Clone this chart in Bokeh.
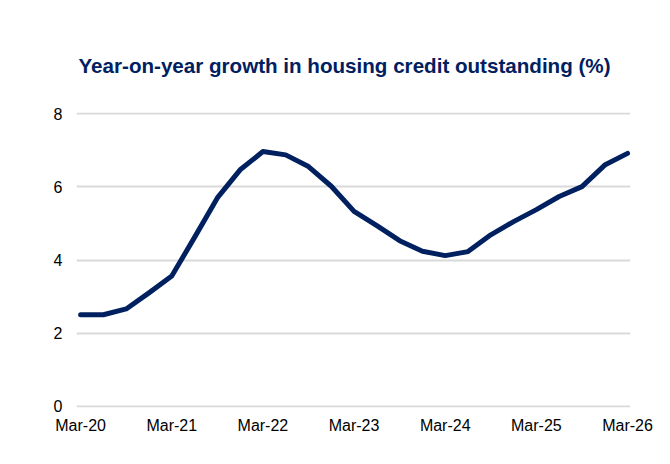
from bokeh.plotting import figure
from bokeh.models import FixedTicker, Range1d, ColumnDataSource
from bokeh.embed import file_html
from bokeh.resources import INLINE

quarters = ["Mar-20", "Jun-20", "Sep-20", "Dec-20", "Mar-21", "Jun-21", "Sep-21", "Dec-21",
            "Mar-22", "Jun-22", "Sep-22", "Dec-22", "Mar-23", "Jun-23", "Sep-23", "Dec-23",
            "Mar-24", "Jun-24", "Sep-24", "Dec-24", "Mar-25", "Jun-25", "Sep-25", "Dec-25",
            "Mar-26"]
growth = [2.50, 2.50, 2.66, 3.10, 3.56, 4.62, 5.70, 6.47,
          6.97, 6.88, 6.56, 6.02, 5.33, 4.94, 4.53, 4.24,
          4.12, 4.23, 4.69, 5.05, 5.38, 5.74, 6.01, 6.60,
          6.92]
y_ticks = [0, 2, 4, 6, 8]
x_tick_labels = ["Mar-20", "Mar-21", "Mar-22", "Mar-23", "Mar-24", "Mar-25", "Mar-26"]

idx = list(range(len(quarters)))
src = ColumnDataSource(dict(x=idx, y=growth, q=quarters))

NAVY = "#002060"
FONT = "Liberation Sans"

p = figure(width=670, height=464, output_backend="svg", toolbar_location=None,
           x_range=Range1d(-0.18, 24.13), y_range=Range1d(-0.04, 8.04),
           min_border_left=76, min_border_right=40, min_border_bottom=57,
           min_border_top=112)
p.outline_line_color = None
p.background_fill_color = "white"
p.border_fill_color = "white"

p.title.text = "Year-on-year growth in housing credit outstanding (%)"
p.title.align = "left"
p.title.offset = 2
p.title.text_font = FONT
p.title.text_font_size = "20.6px"
p.title.text_font_style = "bold"
p.title.text_color = NAVY
p.title.standoff = 72

p.line("x", "y", source=src, line_color=NAVY, line_width=5, line_join="round", line_cap="round")

# x axis
xt = [quarters.index(l) for l in x_tick_labels]
p.xaxis.ticker = FixedTicker(ticks=xt)
p.xaxis.major_label_overrides = {i: quarters[i] for i in xt}
p.xaxis.axis_line_color = None
p.xaxis.major_tick_line_color = None
p.xaxis.minor_tick_line_color = None
p.xaxis.major_tick_out = 0
p.xaxis.major_label_standoff = 9
p.xaxis.major_label_text_font = FONT
p.xaxis.major_label_text_font_size = "16px"
p.xaxis.major_label_text_color = "black"
p.xgrid.grid_line_color = None

# y axis
p.yaxis.ticker = FixedTicker(ticks=y_ticks)
p.yaxis.axis_line_color = None
p.yaxis.major_tick_line_color = None
p.yaxis.minor_tick_line_color = None
p.yaxis.major_tick_out = 0
p.yaxis.major_label_standoff = 14
p.yaxis.major_label_text_font = FONT
p.yaxis.major_label_text_font_size = "16px"
p.yaxis.major_label_text_color = "black"
p.ygrid.grid_line_color = "#d9d9d9"
p.ygrid.grid_line_width = 2

open("out.html", "w").write(file_html(p, INLINE))
